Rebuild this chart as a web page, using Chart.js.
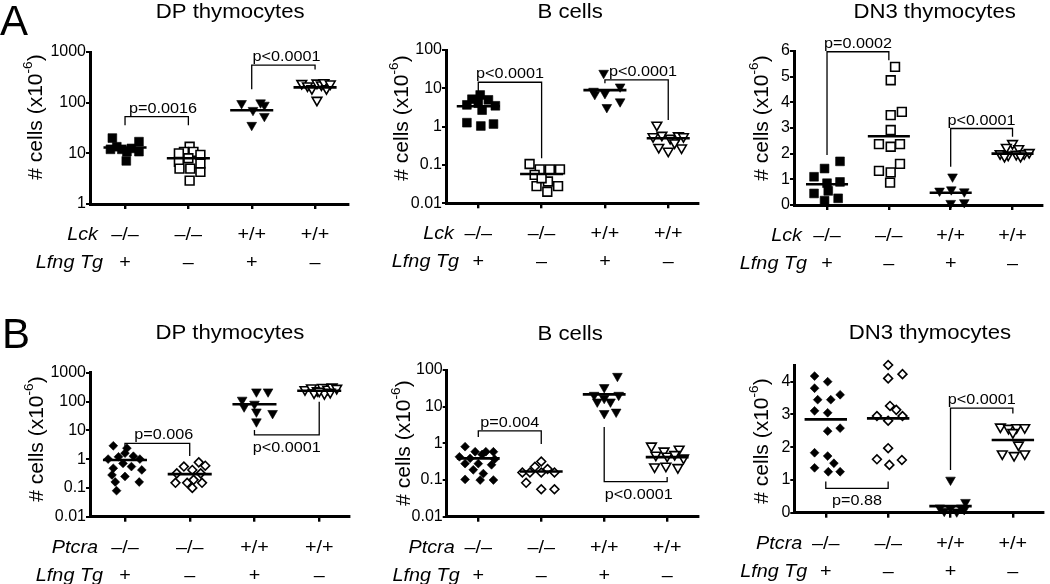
<!DOCTYPE html>
<html>
<head>
<meta charset="utf-8">
<script src="https://cdn.jsdelivr.net/npm/chart.js@4"></script>
<style>
html, body { margin: 0; background: #fff; }
#wrap { position: relative; width: 1050px; height: 584px; }
#wrap canvas { position: absolute; left: 0; top: 0; }
</style>
</head>
<body>
<div id="wrap">
<canvas id="aDp" width="1050" height="584"></canvas>
<canvas id="aB" width="1050" height="584"></canvas>
<canvas id="aDn3" width="1050" height="584"></canvas>
<canvas id="bDp" width="1050" height="584"></canvas>
<canvas id="bB" width="1050" height="584"></canvas>
<canvas id="bDn3" width="1050" height="584"></canvas>
</div>
<script>
// categories
const geneA = 'Lck', geneB = 'Ptcra', tgLabel = 'Lfng Tg';
const genotype = ['–/–', '–/–', '+/+', '+/+'];
const transgene = ['+', '–', '+', '–'];
const titles = ['DP thymocytes', 'B cells', 'DN3 thymocytes'];

// A, DP thymocytes
const aDpValues = [
  [20, 13.5, 12, 12, 10.8, 12.5, 17, 10.8, 7.1],
  [13.5, 10.7, 10.7, 10, 9.3, 8, 6.8, 5, 5, 4.3, 6.3, 2.9],
  [97, 71, 100, 90, 54, 36],
  [240, 215, 190, 245, 225, 250, 190, 235, 112]
];
const aDpJitter = [
  [-0.2, -0.13, -0.23, -0.05, 0.03, 0.1, 0.22, 0.22, 0.02],
  [0.02, -0.07, 0.08, -0.15, 0.19, 0, -0.15, 0.03, -0.14, 0.19, 0.19, 0.02],
  [-0.16, 0.02, 0.14, 0.2, 0.2, 0],
  [-0.21, -0.12, -0.05, 0.03, 0.1, 0.14, 0.18, 0.24, 0.03]
];
const aDpMedians = [13, 8, 71, 200];
const aDpTicks = [1, 10, 100, 1000];
const aDpBrackets = [
  {a: 1, b: 2, top: 53, legA: 36, legB: 36, text: 'p=0.0016', tx: 0.1},
  {a: 3, b: 4, top: 550, legA: 183, legB: 450, text: 'p<0.0001', tx: 0.05}
];

// A, B cells
const aBValues = [
  [3.7, 5.2, 6.7, 5.0, 4.1, 3.5, 2.7, 1.27, 1.04, 1.17],
  [0.106, 0.077, 0.077, 0.077, 0.055, 0.037, 0.028, 0.028, 0.02, 0.045],
  [25, 8.5, 7, 7.4, 11, 3.2, 4.5],
  [1.1, 0.55, 0.6, 0.5, 0.58, 0.55, 0.29, 0.23, 0.28, 0.38]
];
const aBJitter = [
  [-0.18, -0.1, 0.03, 0.16, 0, 0.27, 0.06, -0.18, 0.04, 0.24],
  [-0.19, -0.03, 0.13, 0.29, -0.11, 0.1, -0.08, 0.26, 0.09, 0],
  [-0.02, -0.18, -0.16, 0, 0.24, 0.03, 0.24],
  [-0.18, -0.24, -0.1, 0.03, 0.16, 0.24, -0.15, 0, 0.21, 0.1]
];
const aBMedians = [3.4, 0.058, 9, 0.5];
const aBTicks = [0.01, 0.1, 1, 10, 100];
const aBBrackets = [
  {a: 1, b: 2, top: 14.4, legA: 8.2, legB: 0.15, text: 'p<0.0001', tx: 0},
  {a: 3, b: 4, top: 16.6, legA: 13.6, legB: 1.5, text: 'p<0.0001', tx: 0.1}
];

// A, DN3 thymocytes
const aDn3Values = [
  [1.7, 1.42, 0.9, 1.1, 0.85, 0.45, 0.55, 0.26, 0.17],
  [5.38, 4.86, 3.63, 3.5, 2.92, 2.37, 2.37, 2.27, 1.33, 1.6, 1.27, 0.87],
  [1.1, 0.55, 0.6, 0.52, 0.07, 0.1],
  [2.4, 2.25, 2.2, 2.0, 1.95, 1.98, 2.0, 2.05, 1.9, 1.9]
];
const aDn3Jitter = [
  [0.21, -0.04, 0.21, -0.21, 0, -0.21, 0.02, 0.18, -0.04],
  [0.1, 0.03, 0.21, 0.03, 0.03, -0.16, 0.18, 0.03, -0.16, 0.18, 0.03, 0.02],
  [0.03, -0.18, 0.01, 0.22, 0, 0.22],
  [0, -0.1, 0.1, -0.2, -0.07, 0.06, 0.19, 0.27, -0.13, 0.13]
];
const aDn3Medians = [0.81, 2.68, 0.48, 2.0];
const aDn3Ticks = [0, 1, 2, 3, 4, 5, 6];
const aDn3Brackets = [
  {a: 1, b: 2, top: 5.97, legA: 1.95, legB: 5.64, text: 'p=0.0002', tx: 0},
  {a: 3, b: 4, top: 2.98, legA: 1.49, legB: 2.66, text: 'p<0.0001', tx: 0}
];

// B, DP thymocytes
const bDpValues = [
  [2.9, 2.4, 1.6, 1.0, 1.2, 1.26, 1.0, 0.71, 0.48, 0.55, 0.42, 0.28, 0.25, 0.16, 0.16, 0.08],
  [0.77, 0.59, 0.55, 0.42, 0.32, 0.32, 0.15, 0.15, 0.15, 0.19, 0.1],
  [219, 219, 113, 82, 66, 39, 44, 20],
  [260, 300, 240, 310, 270, 320, 290, 200, 190, 230, 210]
];
const bDpJitter = [
  [-0.18, 0.03, 0, -0.26, -0.1, 0.13, 0.23, -0.03, -0.18, 0.1, 0.26, -0.2, 0, 0.22, -0.15, -0.13],
  [0.14, 0.24, -0.09, 0.04, -0.2, 0.17, -0.22, -0.04, 0.19, 0.06, 0.04],
  [0.03, 0.21, -0.19, 0, -0.16, 0.28, 0.03, 0.03],
  [-0.22, -0.12, -0.03, 0.05, 0.13, 0.2, 0.27, -0.08, 0.08, 0, 0.17]
];
const bDpMedians = [0.93, 0.3, 80, 237];
const bDpTicks = [0.01, 0.1, 1, 10, 100, 1000];
const bDpBrackets = [
  {a: 1, b: 2, top: 3.5, legA: 2.7, legB: 1.28, text: 'p=0.006', tx: 0.1},
  {a: 3, b: 4, top: 6.9, legA: 10.2, legB: 98, text: 'p<0.0001', tx: 0, below: true}
];

// B, B cells
const bBValues = [
  [0.81, 0.59, 0.59, 0.59, 0.43, 0.39, 0.5, 0.37, 0.28, 0.28, 0.26, 0.19, 0.15, 0.104, 0.1, 0.1],
  [0.32, 0.23, 0.2, 0.16, 0.16, 0.16, 0.16, 0.084, 0.056, 0.056],
  [68, 33.6, 20.7, 20.7, 17, 13.6, 13.6, 6.6, 7.2],
  [0.85, 0.62, 0.7, 0.48, 0.45, 0.5, 0.23, 0.24, 0.22, 0.4]
];
const bBJitter = [
  [-0.21, -0.05, 0.12, 0.24, -0.3, -0.13, 0.06, 0.26, -0.21, 0, 0.21, -0.08, 0.08, -0.21, 0.03, 0.24],
  [0, -0.1, 0.1, -0.3, -0.18, 0, 0.21, -0.24, 0, 0.21],
  [0.21, 0, -0.16, 0.23, 0, -0.11, 0.1, 0, 0.19],
  [-0.25, -0.05, 0.19, -0.18, 0, 0.12, -0.2, -0.02, 0.17, 0.26]
];
const bBMedians = [0.39, 0.17, 21.6, 0.42];
const bBTicks = [0.01, 0.1, 1, 10, 100];
const bBBrackets = [
  {a: 1, b: 2, top: 2.2, legA: 1.5, legB: 0.96, text: 'p=0.004', tx: 0},
  {a: 3, b: 4, top: 0.09, legA: 2.8, legB: 0.12, text: 'p<0.0001', tx: 0.05, below: true}
];

// B, DN3 thymocytes
const bDn3Values = [
  [4.17, 4.0, 3.8, 3.6, 3.45, 3.45, 3.11, 3.05, 2.58, 2.49, 1.83, 1.73, 1.51, 1.37, 1.25, 1.25],
  [4.51, 4.1, 4.23, 3.26, 3.14, 2.95, 2.95, 2.81, 1.97, 1.63, 1.61, 1.46],
  [1.0, 0.32, 0.15, 0.12, 0.15, 0.05, 0.03, 0.1],
  [2.62, 2.58, 2.6, 2.6, 2.45, 2.07, 1.8, 1.75, 1.8]
];
const bDn3Jitter = [
  [-0.18, 0.03, -0.18, 0.23, -0.13, 0.08, -0.18, 0.03, 0.23, 0.03, -0.18, 0.03, 0.13, -0.18, 0.04, 0.23],
  [0, 0, 0.23, 0.03, 0.13, -0.18, 0.23, 0, 0, -0.18, 0.22, 0.02],
  [0, 0.24, -0.17, 0, 0.17, -0.1, 0.1, 0.22],
  [-0.2, -0.07, 0.06, 0.19, 0, 0.09, -0.17, 0.02, 0.19]
];
const bDn3Medians = [2.85, 2.88, 0.2, 2.22];
const bDn3Ticks = [0, 1, 2, 3, 4];
const bDn3Brackets = [
  {a: 1, b: 2, top: 0.74, legA: 0.95, legB: 0.95, text: 'p=0.88', tx: 0, below: true},
  {a: 3, b: 4, top: 3.19, legA: 1.3, legB: 3.03, text: 'p<0.0001', tx: 0}
];

const FONT = '"Liberation Sans", Arial, Helvetica, sans-serif';
const Y_AXIS_WIDTH = 60;

const markersA = [
  {style: 'rect', fill: true, r: 6.2, rot: 0},
  {style: 'rect', fill: false, r: 6.2, rot: 0},
  {style: 'triangle', fill: true, r: 5.6, rot: 180},
  {style: 'triangle', fill: false, r: 5.6, rot: 180}
];
const markersB = [
  {style: 'rectRot', fill: true, r: 4.4, rot: 0},
  {style: 'rectRot', fill: false, r: 4.4, rot: 0},
  {style: 'triangle', fill: true, r: 5.6, rot: 180},
  {style: 'triangle', fill: false, r: 5.6, rot: 180}
];

// box = [left, top, right, bottom] of the plot area on the page
const panels = [
  {id: 'aDp', letter: 'A', letterAt: [0, 35], gene: geneA, title: titles[0], titleX: 2.66, titleY: 12,
   values: aDpValues, jitter: aDpJitter, medians: aDpMedians, ticks: aDpTicks, brackets: aDpBrackets, markers: markersA,
   yType: 'logarithmic', yMin: 1, yMax: 1000, xMin: 0.447, xMax: 4.52, box: [90, 52, 348, 204], yTitleAt: [36, 117]},
  {id: 'aB', gene: geneA, title: titles[1], titleX: 2.45, titleY: 12,
   values: aBValues, jitter: aBJitter, medians: aBMedians, ticks: aBTicks, brackets: aBBrackets, markers: markersA,
   yType: 'logarithmic', yMin: 0.01, yMax: 100, xMin: 0.49, xMax: 4.47, box: [446, 50, 698, 203.3], yTitleAt: [402, 118]},
  {id: 'aDn3', gene: geneA, title: titles[2], titleX: 2.74, titleY: 12,
   values: aDn3Values, jitter: aDn3Jitter, medians: aDn3Medians, ticks: aDn3Ticks, brackets: aDn3Brackets, markers: markersA,
   yType: 'linear', yMin: 0, yMax: 6, xMin: 0.466, xMax: 4.48, box: [794, 51, 1050, 205], yTitleAt: [762, 118]},
  {id: 'bDp', letter: 'B', letterAt: [2, 348], gene: geneB, title: titles[0], titleX: 2.62, titleY: 333,
   values: bDpValues, jitter: bDpJitter, medians: bDpMedians, ticks: bDpTicks, brackets: bDpBrackets, markers: markersB,
   yType: 'logarithmic', yMin: 0.01, yMax: 1000, xMin: 0.46, xMax: 4.46, box: [90, 372.7, 349, 516.7], yTitleAt: [37, 439]},
  {id: 'bB', gene: geneB, title: titles[1], titleX: 2.46, titleY: 334,
   values: bBValues, jitter: bBJitter, medians: bBMedians, ticks: bBTicks, brackets: bBBrackets, markers: markersB,
   yType: 'logarithmic', yMin: 0.01, yMax: 100, xMin: 0.498, xMax: 4.49, box: [446.7, 370, 698, 516.7], yTitleAt: [404, 443]},
  {id: 'bDn3', gene: geneB, title: titles[2], titleX: 2.67, titleY: 333,
   values: bDn3Values, jitter: bDn3Jitter, medians: bDn3Medians, ticks: bDn3Ticks, brackets: bDn3Brackets, markers: markersB,
   yType: 'linear', yMin: 0, yMax: 4.5, xMin: 0.495, xMax: 4.48, box: [794.3, 365.3, 1050, 512.7], yTitleAt: [762, 441]}
];

function drawText(ctx, str, x, y, size, align, italic, stretch, baseline) {
  ctx.save();
  ctx.font = (italic ? 'italic ' : '') + size + 'px ' + FONT;
  ctx.textAlign = align;
  ctx.textBaseline = baseline || 'middle';
  ctx.translate(x, y);
  ctx.scale(stretch || 1, 1);
  ctx.fillText(str, 0, 0);
  ctx.restore();
}

// "# cells (x10-6)" with the -6 raised, rotated
function drawYTitle(ctx, cx, cy, size) {
  const big = size + 'px ' + FONT, small = Math.round(size * 0.66) + 'px ' + FONT;
  ctx.save();
  ctx.translate(cx, cy);
  ctx.rotate(-Math.PI / 2);
  ctx.scale(1.05, 1);
  ctx.textBaseline = 'middle';
  ctx.textAlign = 'left';
  ctx.font = big; const w1 = ctx.measureText('# cells (x10').width, w3 = ctx.measureText(')').width;
  ctx.font = small; const w2 = ctx.measureText('-6').width;
  let x = -(w1 + w2 + w3) / 2;
  ctx.font = big; ctx.fillText('# cells (x10', x, 0); x += w1;
  ctx.font = small; ctx.fillText('-6', x, -size * 0.36); x += w2;
  ctx.font = big; ctx.fillText(')', x, 0);
  ctx.restore();
}

function decor(p) {
  return {
    id: 'decor',
    afterDraw(chart) {
      const ctx = chart.ctx, xs = chart.scales.x, ys = chart.scales.y, ca = chart.chartArea;
      ctx.save();
      ctx.fillStyle = '#000';
      if (p.letter) drawText(ctx, p.letter, p.letterAt[0], p.letterAt[1], 42, 'left', false, 1, 'alphabetic');
      drawText(ctx, p.title, xs.getPixelForValue(p.titleX), p.titleY, 20.5, 'center', false, 1.08);
      drawYTitle(ctx, p.yTitleAt[0], p.yTitleAt[1], 20);
      const r1 = ca.bottom + 31, r2 = ca.bottom + 59;
      drawText(ctx, p.gene, ca.left + 8, r1, 18, 'right', true, 1.1);
      drawText(ctx, tgLabel, ca.left + 13, r2, 18, 'right', true, 1.1);
      genotype.forEach((g, i) => {
        const x = xs.getPixelForValue(i + 1);
        drawText(ctx, g, x, r1, 18, 'center', false, 1.1);
        drawText(ctx, transgene[i], x, r2, 18, 'center', false, 1.1);
      });
      p.brackets.forEach(b => {
        const x = xs.getPixelForValue((b.a + b.b) / 2 + b.tx);
        const y = ys.getPixelForValue(b.top);
        drawText(ctx, b.text, x, b.below ? y + 17 : y - 4, 15, 'center', false, 1.08, 'alphabetic');
      });
      ctx.restore();
    }
  };
}

panels.forEach(p => {
  const datasets = [];
  p.medians.forEach((m, i) => {
    datasets.push({
      data: [{x: i + 1 - 0.34, y: m}, {x: i + 1 + 0.34, y: m}],
      showLine: true, borderColor: '#000', borderWidth: 2.6, pointRadius: 0, order: 0, clip: false
    });
  });
  p.brackets.forEach(b => {
    datasets.push({
      data: [{x: b.a, y: b.legA}, {x: b.a, y: b.top}, {x: b.b, y: b.top}, {x: b.b, y: b.legB}],
      showLine: true, borderColor: '#000', borderWidth: 1.3, borderJoinStyle: 'miter',
      pointRadius: 0, order: 1, clip: false
    });
  });
  p.values.forEach((vals, i) => {
    const mk = p.markers[i];
    datasets.push({
      data: vals.map((v, j) => ({x: i + 1 + p.jitter[i][j], y: v})),
      showLine: false,
      pointStyle: mk.style,
      pointRotation: mk.rot,
      pointRadius: mk.r,
      pointBackgroundColor: mk.fill ? '#000' : '#fff',
      pointBorderColor: '#000',
      pointBorderWidth: mk.fill ? 0.6 : 1.6,
      order: 2,
      clip: false
    });
  });

  const [l, t, r, b] = p.box;
  new Chart(document.getElementById(p.id), {
    type: 'scatter',
    data: {datasets: datasets},
    options: {
      responsive: false,
      animation: false,
      events: [],
      layout: {padding: {left: l - Y_AXIS_WIDTH, top: t, right: 1050 - r, bottom: 584 - b}},
      plugins: {legend: {display: false}, tooltip: {enabled: false}, title: {display: false}},
      scales: {
        x: {
          type: 'linear', min: p.xMin, max: p.xMax,
          afterBuildTicks: s => { s.ticks = genotype.map((g, i) => ({value: i + 1})); },
          afterFit: s => { s.height = 0; },
          ticks: {display: false},
          grid: {drawOnChartArea: false, drawTicks: true, tickLength: 5, color: '#000', lineWidth: 2.4},
          border: {display: true, color: '#000', width: 3}
        },
        y: {
          type: p.yType, min: p.yMin, max: p.yMax,
          afterBuildTicks: s => { s.ticks = p.ticks.map(v => ({value: v})); },
          afterFit: s => { s.width = Y_AXIS_WIDTH; },
          ticks: {color: '#000', font: {family: FONT, size: 16}, padding: 0, autoSkip: false,
                  callback: v => String(v)},
          grid: {drawOnChartArea: false, drawTicks: true, tickLength: 4, color: '#000', lineWidth: 2},
          border: {display: true, color: '#000', width: 3}
        }
      }
    },
    plugins: [decor(p)]
  });
});
</script>
</body>
</html>
